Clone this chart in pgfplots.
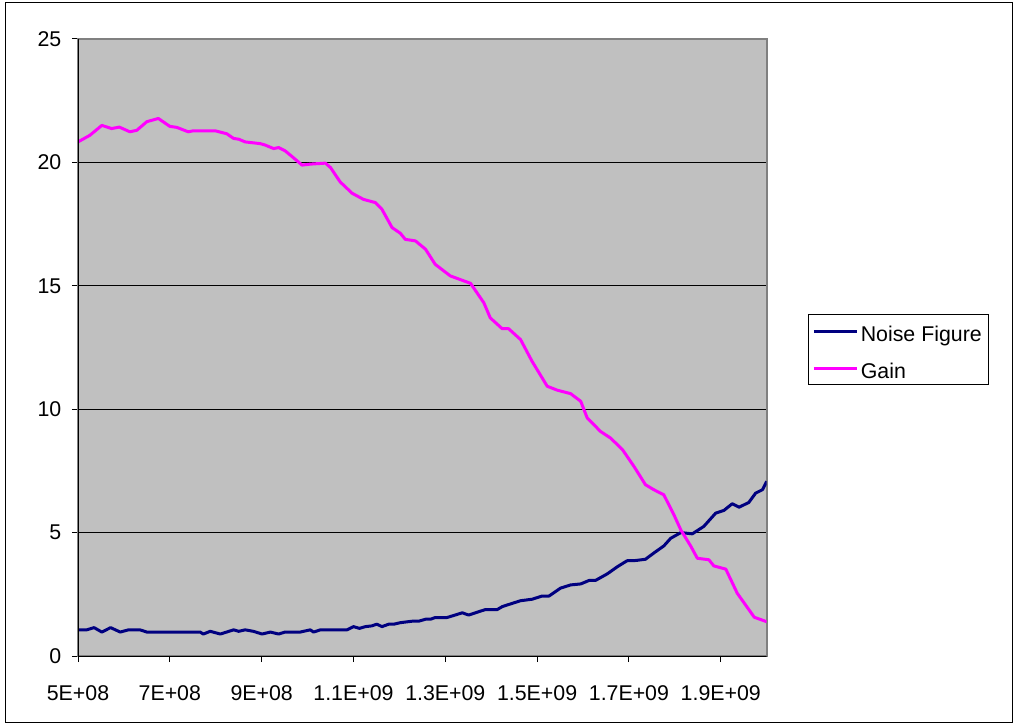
\documentclass[border=0pt]{standalone}
\usepackage{fontspec}
\setmainfont{Liberation Sans}
\usepackage{pgfplots}
\pgfplotsset{compat=1.18}
\definecolor{plotbg}{HTML}{C0C0C0}
\definecolor{nfblue}{HTML}{000080}
\definecolor{gainmag}{HTML}{FF00FF}
\definecolor{bordergray}{HTML}{808080}
\begin{document}
\begin{tikzpicture}
\useasboundingbox (0,0) rectangle (762.75pt,543.75pt);
\draw[black, line width=0.75pt] (3.75pt,2.25pt) rectangle (759pt,541.5pt);
\begin{axis}[
  at={(58.5pt,51.75pt)}, anchor=south west,
  scale only axis, width=516.5pt, height=462.75pt,
  xmin=5, xmax=20, ymin=0, ymax=25,
  xtick={5,7,9,11,13,15,17,19},
  xticklabels={5E+08,7E+08,9E+08,1.1E+09,1.3E+09,1.5E+09,1.7E+09,1.9E+09},
  ytick={0,5,10,15,20,25},
  ymajorgrids, grid style={black, line width=0.75pt},
  axis background/.style={fill=plotbg},
  axis line style={draw=bordergray, line width=1.5pt},
  tick align=outside, major tick length=4.5pt,
  tick style={black, line width=0.75pt},
  xtick pos=lower, ytick pos=left,
  ticklabel style={font=\fontsize{16}{19}\selectfont},
  xticklabel style={yshift=-14pt},
  yticklabel style={xshift=-4.5pt},
  /pgf/number format/assume math mode=true,
  legend style={at={(1.06,0.5543)}, anchor=north west, draw=black, line width=0.75pt,
    fill=white, font=\fontsize{16}{19}\selectfont, inner xsep=3pt, inner ysep=2pt,
    nodes={inner xsep=2pt, inner ysep=1pt, text height=17pt, text depth=1.8pt}, row sep=7pt},
  legend cell align=left,
  legend image code/.code={\draw[#1, line width=2.25pt] (0pt,0pt) -- (32pt,0pt);},
]
\addplot[nfblue, line width=2.25pt, line join=round] coordinates {
(5.00,1.06) (5.19,1.06) (5.35,1.15) (5.52,0.97) (5.71,1.15) (5.92,0.97)
(6.10,1.06) (6.35,1.06) (6.50,0.97) (7.66,0.97) (7.73,0.89) (7.88,1.00)
(8.10,0.89) (8.39,1.06) (8.50,1.00) (8.64,1.06) (8.82,1.00) (9.01,0.89)
(9.19,0.97) (9.37,0.89) (9.51,0.97) (9.84,0.97) (10.06,1.06) (10.13,0.97)
(10.28,1.06) (10.86,1.06) (11.00,1.19) (11.13,1.12) (11.26,1.19) (11.40,1.22)
(11.51,1.29) (11.62,1.19) (11.77,1.29) (11.88,1.29) (12.02,1.35) (12.28,1.41)
(12.42,1.41) (12.57,1.49) (12.68,1.49) (12.78,1.56) (13.04,1.56) (13.18,1.64)
(13.37,1.75) (13.51,1.66) (13.69,1.77) (13.87,1.88) (14.13,1.88) (14.24,2.00)
(14.42,2.11) (14.64,2.24) (14.89,2.30) (15.11,2.43) (15.26,2.43) (15.51,2.75)
(15.73,2.88) (15.95,2.92) (16.13,3.06) (16.27,3.06) (16.53,3.33) (16.75,3.62)
(16.96,3.86) (17.15,3.87) (17.36,3.92) (17.54,4.17) (17.76,4.46) (17.91,4.77)
(18.13,5.00) (18.38,4.95) (18.63,5.25) (18.89,5.79) (19.07,5.90) (19.25,6.17)
(19.40,6.03) (19.61,6.22) (19.76,6.60) (19.91,6.74) (20.00,7.08)
};
\addlegendentry{Noise Figure}
\addplot[gainmag, line width=2.25pt, line join=round] coordinates {
(5.00,20.83) (5.26,21.10) (5.52,21.50) (5.73,21.37) (5.90,21.43) (6.13,21.24)
(6.28,21.30) (6.50,21.65) (6.75,21.78) (7.00,21.46) (7.15,21.42) (7.40,21.24)
(7.51,21.28) (7.99,21.28) (8.24,21.16) (8.39,20.97) (8.50,20.94) (8.64,20.83)
(8.97,20.76) (9.08,20.70) (9.26,20.56) (9.37,20.60) (9.51,20.47) (9.66,20.24)
(9.88,19.89) (10.06,19.93) (10.39,19.97) (10.50,19.79) (10.71,19.21) (10.97,18.75)
(11.22,18.50) (11.48,18.37) (11.62,18.10) (11.84,17.36) (12.02,17.13) (12.13,16.88)
(12.35,16.82) (12.57,16.48) (12.78,15.87) (13.11,15.40) (13.55,15.10) (13.84,14.31)
(13.98,13.70) (14.24,13.26) (14.38,13.26) (14.64,12.82) (14.89,11.94) (15.22,10.93)
(15.44,10.77) (15.73,10.63) (15.95,10.32) (16.09,9.65) (16.38,9.10) (16.60,8.83)
(16.86,8.36) (17.11,7.68) (17.36,6.94) (17.54,6.74) (17.76,6.53) (17.98,5.72)
(18.13,5.11) (18.35,4.44) (18.49,3.96) (18.74,3.90) (18.85,3.65) (19.11,3.52)
(19.36,2.54) (19.73,1.57) (20.00,1.39)
};
\addlegendentry{Gain}
\draw[black, line width=0.75pt] (rel axis cs:0,0) -- (rel axis cs:0,1);
\draw[black, line width=0.75pt] (rel axis cs:0,0) -- (rel axis cs:1,0);
\end{axis}
\end{tikzpicture}
\end{document}
